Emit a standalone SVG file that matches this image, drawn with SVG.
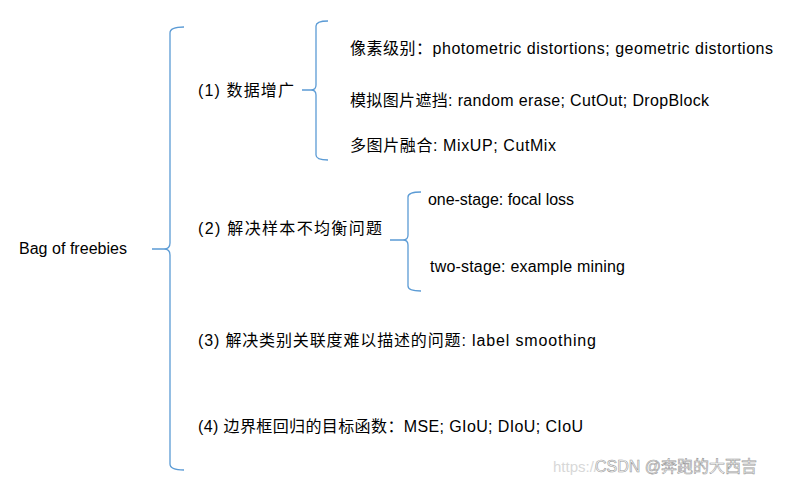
<svg xmlns="http://www.w3.org/2000/svg" width="799" height="484" viewBox="0 0 799 484">
<style>
.b{fill:none;stroke:#5b9bd5;stroke-width:1.3}
.t{font-family:"Liberation Sans","Noto Sans CJK SC",sans-serif;font-size:16px;fill:#000}
</style>
<rect width="799" height="484" fill="#fff"/>
<g id="connectors">
<path class="b" d="M184,27 Q170,27 170,33 L170,243 Q170,249 164,249 L152,249 M164,249 Q170,249 170,255 L170,464 Q170,470 184,470"/>
<path class="b" d="M328,21 Q316,21 316,26 L316,85 Q316,90 311,90 L302,90 M311,90 Q316,90 316,95 L316,155 Q316,160 328,160"/>
<path class="b" d="M421,192 Q408,192 408,197 L408,235 Q408,240 403,240 L390,240 M403,240 Q408,240 408,245 L408,286 Q408,291 421,291"/>
</g>
<g id="root"><text class="t" x="19" y="254" textLength="108" lengthAdjust="spacing">Bag of freebies</text></g>
<g id="n1"><text class="t" x="198" y="96" textLength="96" lengthAdjust="spacing">(1) 数据增广</text></g>
<g id="n1a"><text class="t" x="350" y="54" textLength="423" lengthAdjust="spacing">像素级别：photometric distortions; geometric distortions</text></g>
<g id="n1b"><text class="t" x="350" y="106" textLength="359" lengthAdjust="spacing">模拟图片遮挡: random erase; CutOut; DropBlock</text></g>
<g id="n1c"><text class="t" x="350" y="151" textLength="206" lengthAdjust="spacing">多图片融合: MixUP; CutMix</text></g>
<g id="n2"><text class="t" x="198" y="234" textLength="184" lengthAdjust="spacing">(2) 解决样本不均衡问题</text></g>
<g id="n2a"><text class="t" x="428" y="205" textLength="146" lengthAdjust="spacing">one-stage: focal loss</text></g>
<g id="n2b"><text class="t" x="430" y="272" textLength="195" lengthAdjust="spacing">two-stage: example mining</text></g>
<g id="n3"><text class="t" x="198" y="346" textLength="398" lengthAdjust="spacing">(3) 解决类别关联度难以描述的问题: label smoothing</text></g>
<g id="n4"><text class="t" x="198" y="432" textLength="385" lengthAdjust="spacing">(4) 边界框回归的目标函数：MSE; GIoU; DIoU; CIoU</text></g>
<g id="wm">
<text x="553" y="472" style="font-family:'Liberation Sans',sans-serif;font-size:15px;fill:#d8d8d8">https://</text>
<text x="595" y="472" style="font-family:'Liberation Sans','Noto Sans CJK SC',sans-serif;font-size:16px;fill:#fff;stroke:#999;stroke-width:0.6">CSDN @奔跑的大西吉</text>
</g>
</svg>
